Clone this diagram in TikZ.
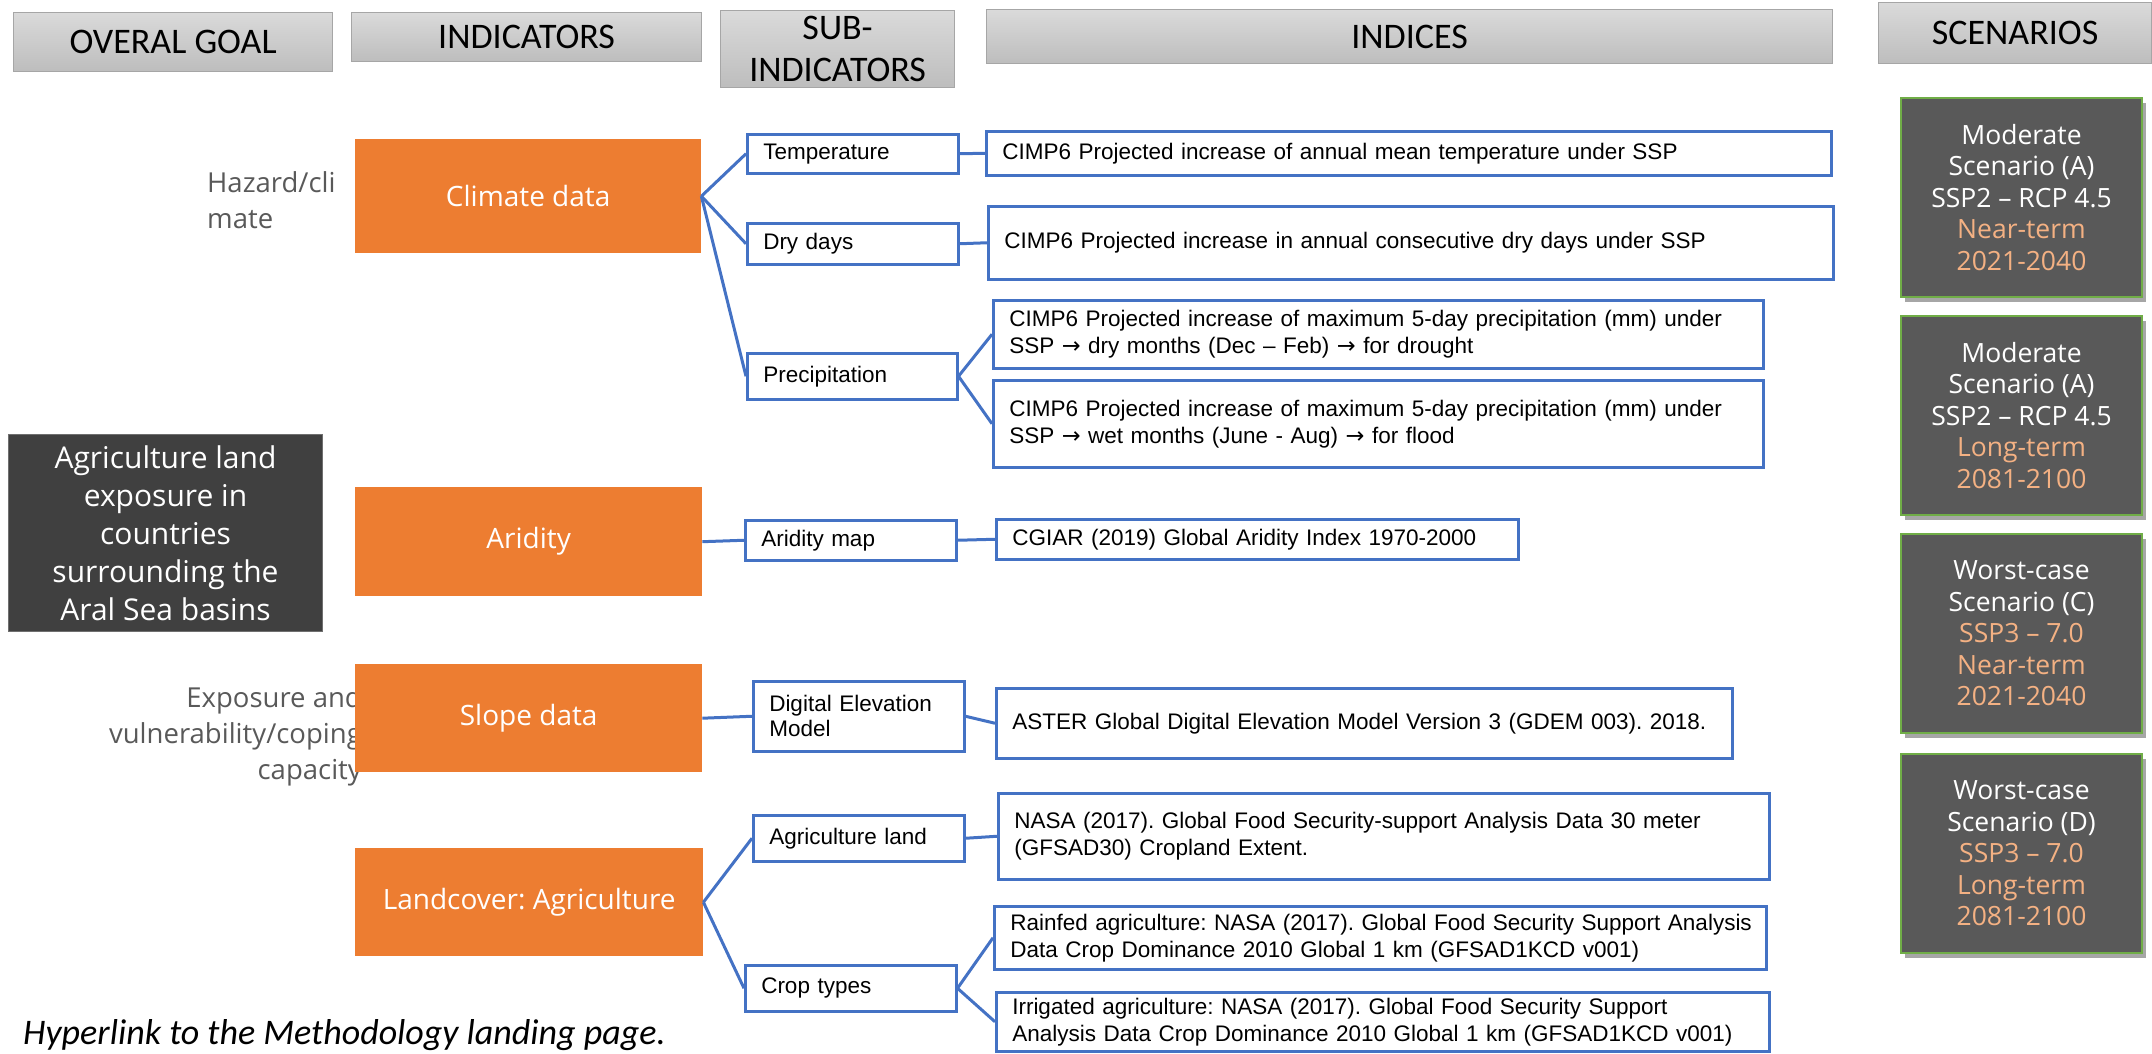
\documentclass[tikz,border=0pt]{standalone}
\usepackage{fontspec}
\setmainfont{Liberation Sans}
\newfontfamily\calfont{Carlito}
\newfontfamily\osans{Open Sans}
\newfontfamily\arrfont{DejaVu Sans}
\newcommand\rarr{{\arrfont →}}
\frenchspacing
\usetikzlibrary{shadows}
\definecolor{orng}{HTML}{ED7D31}
\definecolor{blu}{HTML}{4472C4}
\definecolor{hdrtop}{HTML}{DADADA}
\definecolor{hdrbot}{HTML}{BDBDBD}
\definecolor{hdrline}{HTML}{A6A6A6}
\definecolor{goalfill}{HTML}{404040}
\definecolor{goalline}{HTML}{6F6F6F}
\definecolor{scenfill}{HTML}{595959}
\definecolor{scenline}{HTML}{70AD47}
\definecolor{scorange}{HTML}{F4B183}
\definecolor{lblgray}{HTML}{595959}
\begin{document}
\begin{tikzpicture}[x=1pt,y=-1pt,
  hdr/.style={draw=hdrline, line width=1.2pt, top color=hdrtop, bottom color=hdrbot,
    font=\calfont\fontsize{36}{42}\selectfont, text=black, align=center, inner sep=0pt, anchor=north west},
  ind/.style={fill=orng, draw=none, text=white, font=\osans\fontsize{28}{34}\selectfont,
    inner sep=0pt, anchor=north west},
  goalbox/.style={fill=goalfill, draw=goalline, line width=1pt, text=white, align=center,
    font=\osans\fontsize{30}{38}\selectfont, inner sep=0pt, anchor=north west},
  bbox/.style={draw=blu, line width=2.5pt, fill=white, text=black, align=left,
    font=\fontsize{22.5}{27}\selectfont, inner xsep=16pt, inner ysep=0pt, anchor=north west},
  scen/.style={fill=scenfill, draw=scenline, line width=2pt, text=white, align=center,
    font=\osans\fontsize{26.5}{31.5}\selectfont, inner sep=0pt, anchor=north west,
    drop shadow={shadow xshift=4pt, shadow yshift=-5pt, opacity=0.35, fill=black}},
  lbl/.style={font=\osans\fontsize{27.5}{36}\selectfont, text=lblgray, inner sep=0pt},
  conn/.style={draw=blu, line width=3pt}
]
\useasboundingbox (0,0) rectangle (2152,1053);

% headers
\node[hdr, minimum width=319pt, minimum height=59pt] (hgoal) at (13,12) {OVERAL GOAL};
\node[hdr, minimum width=350pt, minimum height=49pt] (hind) at (351,12) {INDICATORS};
\node[hdr, minimum width=234pt, minimum height=77pt] (hsub) at (720,10) {SUB-\\INDICATORS};
\node[hdr, minimum width=846pt, minimum height=54pt] (hidx) at (986,9) {INDICES};
\node[hdr, minimum width=273pt, minimum height=61pt] (hscn) at (1878,2) {SCENARIOS};

% side labels
\node[lbl, align=left, anchor=west] (hz) at (207,200) {Hazard/cli\\mate};
\node[lbl, align=right, anchor=east] (ex) at (362,736) {Exposure and\\vulnerability/coping\\capacity};

% overall goal
\node[goalbox, minimum width=314pt, minimum height=197pt] (goal) at (8,434)
  {Agriculture land\\exposure in\\countries\\surrounding the\\Aral Sea basins};

% indicators
\node[ind, minimum width=346pt, minimum height=114pt] (clim) at (355,139) {Climate data};
\node[ind, minimum width=347pt, minimum height=109pt] (arid) at (355,487) {Aridity};
\node[ind, minimum width=347pt, minimum height=108pt] (slope) at (355,664) {Slope data};
\node[ind, minimum width=348pt, minimum height=108pt] (land) at (355,848) {Landcover: Agriculture};

% sub-indicators
\node[bbox, minimum width=211pt, minimum height=39pt, text width=179pt] (temp) at (746,133) {Temperature};
\node[bbox, minimum width=211pt, minimum height=41pt, text width=179pt] (dry) at (746,222) {Dry days};
\node[bbox, minimum width=210pt, minimum height=46pt, text width=178pt] (prec) at (746,352) {Precipitation};
\node[bbox, minimum width=211pt, minimum height=40pt, text width=179pt] (amap) at (744,519) {Aridity map};
\node[bbox, minimum width=211pt, minimum height=70pt, text width=179pt, font=\fontsize{22.5}{25}\selectfont] (dem) at (752,680) {Digital Elevation\\Model};
\node[bbox, minimum width=211pt, minimum height=46pt, text width=179pt] (agl) at (752,814) {Agriculture land};
\node[bbox, minimum width=211pt, minimum height=46pt, text width=179pt] (crop) at (744,964) {Crop types};

% indices
\node[bbox, minimum width=845pt, minimum height=44pt, text width=813pt] (iT) at (985,130)
  {CIMP6 Projected increase of annual mean temperature under SSP};
\node[bbox, minimum width=845pt, minimum height=73pt, text width=813pt] (iD) at (987,205)
  {CIMP6 Projected increase in annual consecutive dry days under SSP};
\node[bbox, minimum width=770pt, minimum height=68pt, text width=738pt] (iP1) at (992,299)
  {\mbox{CIMP6 Projected increase of maximum 5-day precipitation (mm) under}\\SSP \rarr{} dry months (Dec – Feb) \rarr{} for drought};
\node[bbox, minimum width=770pt, minimum height=87pt, text width=738pt] (iP2) at (992,379)
  {\mbox{CIMP6 Projected increase of maximum 5-day precipitation (mm) under}\\SSP \rarr{} wet months (June - Aug) \rarr{} for flood};
\node[bbox, minimum width=522pt, minimum height=40pt, text width=490pt] (iA) at (995,518)
  {CGIAR (2019) Global Aridity Index 1970-2000};
\node[bbox, minimum width=736pt, minimum height=70pt, text width=704pt] (iE) at (995,687)
  {\mbox{ASTER Global Digital Elevation Model Version 3 (GDEM 003). 2018.}};
\node[bbox, minimum width=771pt, minimum height=86pt, text width=739pt] (iN) at (997,792)
  {\mbox{NASA (2017). Global Food Security-support Analysis Data 30 meter}\\(GFSAD30) Cropland Extent.};
\node[bbox, minimum width=772pt, minimum height=63pt, text width=740pt] (iR) at (993,905)
  {\mbox{Rainfed agriculture: NASA (2017). Global Food Security Support Analysis}\\\mbox{Data Crop Dominance 2010 Global 1 km (GFSAD1KCD v001)}};
\node[bbox, minimum width=773pt, minimum height=59pt, text width=741pt] (iI) at (995,991)
  {\mbox{Irrigated agriculture: NASA (2017). Global Food Security Support}\\\mbox{Analysis Data Crop Dominance 2010 Global 1 km (GFSAD1KCD v001)}};

% scenarios
\node[scen, minimum width=241pt, minimum height=199pt] (s1) at (1900,97)
  {Moderate\\Scenario (A)\\SSP2 – RCP 4.5\\\textcolor{scorange}{Near-term}\\\textcolor{scorange}{2021-2040}};
\node[scen, minimum width=241pt, minimum height=199pt] (s2) at (1900,315)
  {Moderate\\Scenario (A)\\SSP2 – RCP 4.5\\\textcolor{scorange}{Long-term}\\\textcolor{scorange}{2081-2100}};
\node[scen, minimum width=241pt, minimum height=199pt] (s3) at (1900,533)
  {Worst-case\\Scenario (C)\\\textcolor{scorange}{SSP3 – 7.0}\\\textcolor{scorange}{Near-term}\\\textcolor{scorange}{2021-2040}};
\node[scen, minimum width=241pt, minimum height=199pt] (s4) at (1900,753)
  {Worst-case\\Scenario (D)\\\textcolor{scorange}{SSP3 – 7.0}\\\textcolor{scorange}{Long-term}\\\textcolor{scorange}{2081-2100}};

% hyperlink
\node[anchor=base west, inner sep=0pt, font=\calfont\itshape\fontsize{36}{42}\selectfont] (hl) at (23,1044)
  {Hyperlink to the Methodology landing page.};

% connectors
\draw[conn] (clim.east) -- (temp.west);
\draw[conn] (clim.east) -- (dry.west);
\draw[conn] (clim.east) -- (prec.west);
\draw[conn] (temp.east) -- (iT.west);
\draw[conn] (dry.east) -- (iD.west);
\draw[conn] (prec.east) -- (iP1.west);
\draw[conn] (prec.east) -- (iP2.west);
\draw[conn] (arid.east) -- (amap.west);
\draw[conn] (amap.east) -- (iA.west);
\draw[conn] (slope.east) -- (dem.west);
\draw[conn] (dem.east) -- (iE.west);
\draw[conn] (land.east) -- (agl.west);
\draw[conn] (land.east) -- (crop.west);
\draw[conn] (agl.east) -- (iN.west);
\draw[conn] (crop.east) -- (iR.west);
\draw[conn] (crop.east) -- (iI.west);
\end{tikzpicture}
\end{document}
